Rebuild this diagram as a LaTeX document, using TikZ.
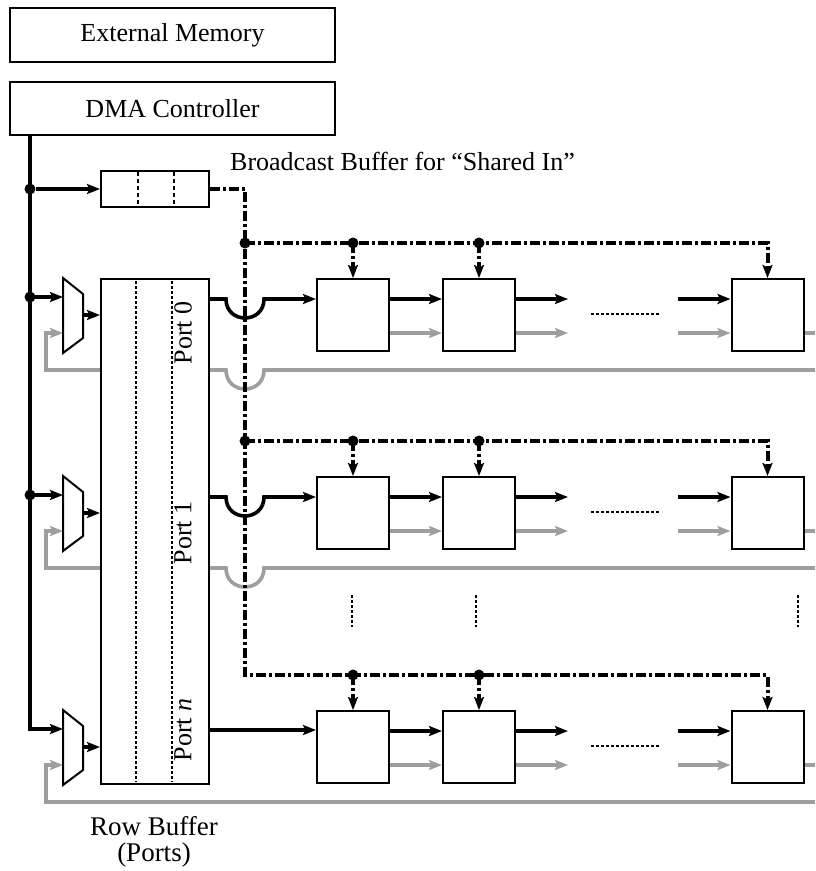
\documentclass[tikz,border=0pt]{standalone}
\usepackage{fontspec}
\setmainfont{Liberation Serif}
\usetikzlibrary{arrows.meta}
\definecolor{gline}{gray}{0.62}
\begin{document}
\begin{tikzpicture}[x=1pt,y=-1pt,
  box/.style={draw,line width=2pt,fill=white,inner sep=0pt,rectangle},
  lbl/.style={font=\fontsize{26}{28}\selectfont,inner sep=0pt},
  bus/.style={line width=3.6pt},
  gbus/.style={line width=3.6pt,draw=gline},
  ddash/.style={line width=4pt,dash pattern=on 10pt off 3pt on 3pt off 3pt},
  tip/.style={-{Stealth[length=13pt,width=10pt,inset=2.5pt]}},
  junc/.style={circle,fill=black,inner sep=0pt,minimum size=11pt},
  fdot/.style={line width=1.5pt,dash pattern=on 2.5pt off 2.5pt},
  vdot/.style={line width=1.8pt,dash pattern=on 2.5pt off 2.5pt},
  muxshape/.style={line width=2pt,fill=white}
]
\useasboundingbox (0,0) rectangle (815,871);

% top boxes
\node[box,lbl,minimum width=325pt,minimum height=54pt] (mem) at (172.5,35) {External Memory};
\node[box,lbl,minimum width=325pt,minimum height=53pt] (dma) at (172.5,108.5) {DMA Controller};

% broadcast buffer
\node[box,minimum width=108pt,minimum height=36pt] (bb) at (155,189) {};
\draw[line width=1.5pt,dash pattern=on 4pt off 3pt] (138,172) -- (138,206);
\draw[line width=1.5pt,dash pattern=on 4pt off 3pt] (174,172) -- (174,206);
\node[lbl,anchor=base west] (bblbl) at (230,170) {Broadcast Buffer for “Shared In”};

% gray return lines (behind row buffer)
\foreach \y/\r in {279/0,477/1} {
  \draw[gbus,tip] (815,\y+91) -- (264,\y+91) .. controls (264,\y+116.3) and (226,\y+116.3) .. (226,\y+91) -- (46,\y+91) -- (46,\y+54) -- (63,\y+54);
}
\draw[gbus,tip] (815,802) -- (46,802) -- (46,765) -- (63,765);

% row buffer
\node[box,minimum width=108pt,minimum height=505pt] (rb) at (155,531.5) {};
\draw[fdot] (136,281) -- (136,782);
\draw[fdot] (172,281) -- (172,782);
\node[lbl,rotate=90] (p0) at (183,333) {Port 0};
\node[lbl,rotate=90] (p1) at (183,533) {Port 1};
\node[lbl,rotate=90] (pn) at (183,730) {Port \textit{n}};
\node[lbl,font=\fontsize{27}{26}\selectfont,align=center,anchor=north] (rbl) at (154,816) {Row Buffer\\(Ports)};

% main bus
\coordinate (bt) at (30,136);
\draw[bus,tip] (bt) -- (30,729) -- (63,729);
\node[junc] (j0) at (30,189) {};
\draw[bus,tip] (j0) -- (bb.west);

% rows
\foreach \y/\r in {279/0,477/1,711/2} {
  \draw[muxshape] (63,\y-1) -- (83,\y+15) -- (83,\y+59) -- (63,\y+74) -- cycle;
  \draw[bus,tip] (83,\y+36) -- (rb.west |- 0,\y+36);
  \node[box,minimum width=72pt,minimum height=72pt] (b\r1) at (353,\y+36) {};
  \node[box,minimum width=72pt,minimum height=72pt] (b\r2) at (479,\y+36) {};
  \node[box,minimum width=72pt,minimum height=72pt] (b\r3) at (767.5,\y+36) {};
  \draw[bus,tip] (b\r1.east |- 0,\y+20) -- (b\r2.west |- 0,\y+20);
  \draw[bus,tip] (b\r2.east |- 0,\y+20) -- (568,\y+20);
  \draw[bus,tip] (678,\y+20) -- (b\r3.west |- 0,\y+20);
  \draw[gbus,tip] (b\r1.east |- 0,\y+54) -- (b\r2.west |- 0,\y+54);
  \draw[gbus,tip] (b\r2.east |- 0,\y+54) -- (568,\y+54);
  \draw[gbus,tip] (678,\y+54) -- (b\r3.west |- 0,\y+54);
  \draw[gbus] (b\r3.east |- 0,\y+54) -- (815,\y+54);
  \draw[fdot] (591,\y+35) -- (660,\y+35);
  \node[junc] (t\r1) at (353,\y-36) {};
  \node[junc] (t\r2) at (479,\y-36) {};
  \draw[ddash,tip] (t\r1.center) -- (b\r1.north);
  \draw[ddash,tip] (t\r2.center) -- (b\r2.north);
}
\foreach \y/\r in {279/0,477/1} {
  \node[junc] (m\r) at (30,\y+18) {};
  \draw[bus,tip] (m\r.center) -- (63,\y+18);
  \draw[bus,tip] (rb.east |- 0,\y+20) -- (226,\y+20) .. controls (226,\y+45.3) and (264,\y+45.3) .. (264,\y+20) -- (b\r1.west |- 0,\y+20);
  \node[junc] (c\r) at (245,\y-36) {};
  \draw[ddash,tip] (c\r.center) -- (767.5,\y-36) -- (b\r3.north);
}
\draw[bus,tip] (rb.east |- 0,730) -- (b21.west |- 0,730);

% broadcast trunk
\draw[ddash,tip] (bb.east) -- (245,189) -- (245,675) -- (767.5,675) -- (b23.north);

% vertical ellipses
\draw[vdot] (352,595) -- (352,627);
\draw[vdot] (476,595) -- (476,627);
\draw[vdot] (798,595) -- (798,627);
\end{tikzpicture}
\end{document}
